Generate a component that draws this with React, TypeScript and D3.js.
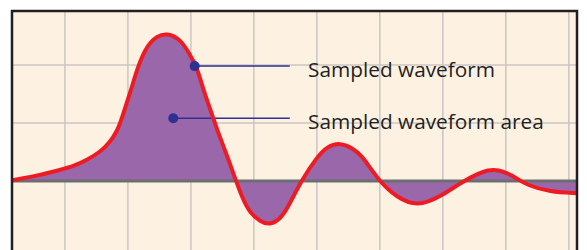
import * as d3 from 'd3';

// waveform samples, in grid units (one grid cell = 1)
const timeValues = [
  -0.84, -0.4, -0.08, 0.13, 0.35, 0.56, 0.71, 0.83, 0.9, 0.98, 1.05, 1.16, 1.3, 1.46, 1.62, 1.83,
  1.98, 2.1, 2.19, 2.3, 2.43, 2.57, 2.7, 2.83, 2.94, 3.1, 3.25, 3.41, 3.52, 3.76, 4.0, 4.17, 4.37,
  4.56, 4.71, 4.97, 5.27, 5.6, 5.95, 6.32, 6.75, 6.98, 7.17, 7.33, 7.7, 8.13,
];
const waveValues = [
  0.01, 0.1, 0.19, 0.25, 0.36, 0.5, 0.66, 0.86, 1.07, 1.34, 1.57, 1.98, 2.33, 2.5, 2.55, 2.45,
  2.19, 1.95, 1.6, 1.26, 0.84, 0.45, 0.05, -0.33, -0.55, -0.7, -0.76, -0.66, -0.5, 0.02, 0.41,
  0.6, 0.66, 0.57, 0.45, 0.02, -0.29, -0.44, -0.28, 0.0, 0.23, 0.16, 0.05, -0.07, -0.19, -0.21,
];

const gridX = [0, 1, 2, 3, 4, 5, 6, 7, 8];
const gridY = [1, 2];

const labels = ['Sampled waveform', 'Sampled waveform area'];
const labelDotX = [2.06, 1.72];
const labelDotY = [1.98, 1.08];
const leaderEndX = 3.57;
const labelX = 3.86;

const W = 587;
const H = 250;

export default function App() {
  const x = d3.scaleLinear().domain([-0.84, 8.13]).range([12, 577]);
  const y = d3.scaleLinear().domain([-1.19, 2.93]).range([250, 11]);

  const points = timeValues.map((t, i) => [t, waveValues[i]] as [number, number]);

  const curve = d3.curveBasis;

  const line = d3
    .line<[number, number]>()
    .x((d) => x(d[0]))
    .y((d) => y(d[1]))
    .curve(curve);

  const area = d3
    .area<[number, number]>()
    .x((d) => x(d[0]))
    .y0(y(0))
    .y1((d) => y(d[1]))
    .curve(curve);

  const [x0, x1] = x.range();
  const top = y.range()[1];

  return (
    <div style={{ position: 'fixed', left: 0, top: 0 }}>
      <svg width={W} height={H} style={{ display: 'block', background: '#ffffff' }}>
        <defs>
          <clipPath id="frame">
            <rect x={x0} y={top} width={x1 - x0} height={H} />
          </clipPath>
        </defs>
        <rect x={x0} y={top} width={x1 - x0} height={H} fill="#fdf1e2" />
        <g clipPath="url(#frame)">
          {gridX.map((g) => (
            <line key={`gx${g}`} x1={x(g)} x2={x(g)} y1={top} y2={H} stroke="#cbc6c3" strokeWidth={1.5} />
          ))}
          {gridY.map((g) => (
            <line key={`gy${g}`} x1={x0} x2={x1} y1={y(g)} y2={y(g)} stroke="#cbc6c3" strokeWidth={1.5} />
          ))}
          <path d={area(points) ?? ''} fill="#9a67aa" />
          <line x1={x0} x2={x1} y1={y(0)} y2={y(0)} stroke="#6d6e71" strokeWidth={3} />
          {labels.map((l, i) => (
            <line
              key={`ll${i}`}
              x1={x(labelDotX[i])}
              x2={x(leaderEndX)}
              y1={y(labelDotY[i])}
              y2={y(labelDotY[i])}
              stroke="#2e3192"
              strokeWidth={1.5}
            />
          ))}
          <path d={line(points) ?? ''} fill="none" stroke="#ed1c24" strokeWidth={4} strokeLinejoin="round" />
          {labels.map((l, i) => (
            <circle key={`ld${i}`} cx={x(labelDotX[i])} cy={y(labelDotY[i])} r={5} fill="#2e3192" />
          ))}
          {labels.map((l, i) => (
            <text
              key={`lt${i}`}
              x={x(labelX)}
              y={y(labelDotY[i]) + 11}
              fontFamily="'Open Sans', sans-serif"
              fontSize={20.8}
              fill="#231f20"
            >
              {l}
            </text>
          ))}
        </g>
        <path
          d={`M${x0},${H + 5}V${top}H${x1}V${H + 5}`}
          fill="none"
          stroke="#231f20"
          strokeWidth={2.5}
        />
      </svg>
    </div>
  );
}
